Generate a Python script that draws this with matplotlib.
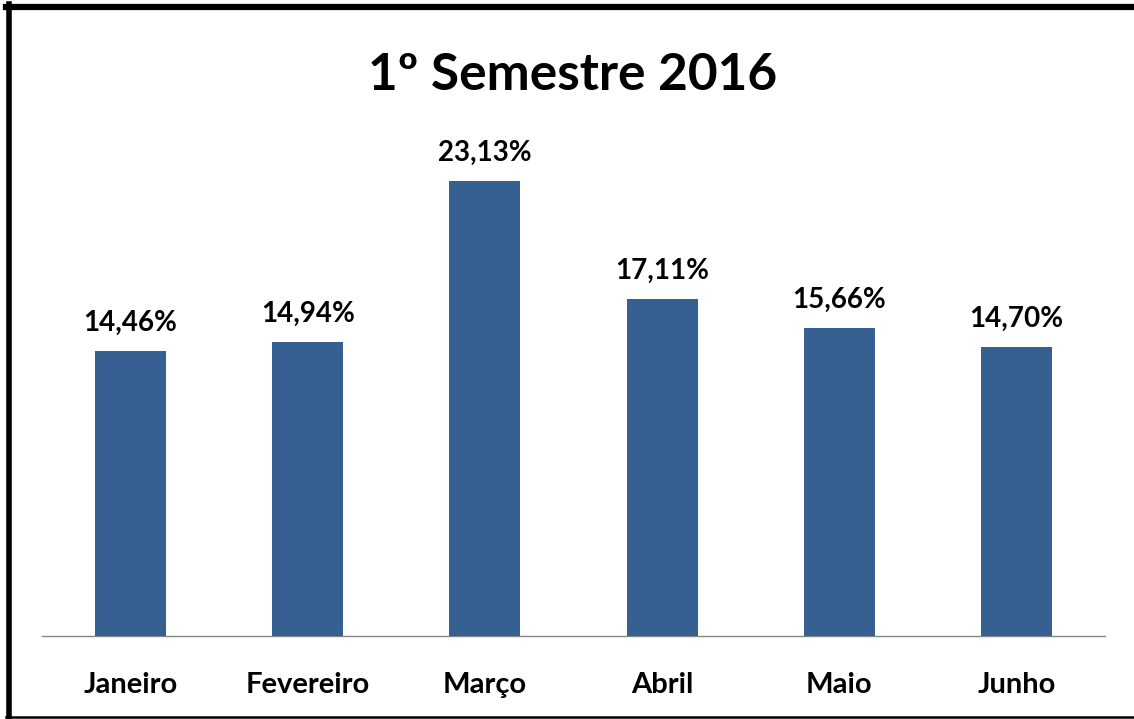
import matplotlib
matplotlib.use("Agg")
import matplotlib.pyplot as plt
from matplotlib.lines import Line2D

# --- DATA ---
meses = ["Janeiro", "Fevereiro", "Março", "Abril", "Maio", "Junho"]
valores = [14.46, 14.94, 23.13, 17.11, 15.66, 14.70]
rotulos = ["14,46%", "14,94%", "23,13%", "17,11%", "15,66%", "14,70%"]

BAR_COLOR = "#376092"
AXIS_COLOR = "#868686"
TEXT_COLOR = "#000000"
FONT = ["Lato", "DejaVu Sans"]

W, H = 1134, 719
fig = plt.figure(figsize=(W / 100, H / 100), dpi=100, facecolor="white")

# plot area: baseline at y=636px, x from 42 to 1105px
ax = fig.add_axes([42 / W, (H - 636) / H, 1063 / W, (636 - 144) / H])
x = list(range(len(meses)))
ax.bar(x, valores, width=0.40, color=BAR_COLOR, zorder=3)
ax.set_xlim(-0.5, len(meses) - 0.5)
ax.set_ylim(0, 25)

for xi, v, lab in zip(x, valores, rotulos):
    ax.annotate(lab, xy=(xi, v), xytext=(0, 11), textcoords="offset points",
                ha="center", va="bottom", fontsize=20, fontweight="bold",
                color=TEXT_COLOR, family=FONT)

for s in ["top", "right", "left"]:
    ax.spines[s].set_visible(False)
ax.spines["bottom"].set_color(AXIS_COLOR)
ax.spines["bottom"].set_linewidth(1.0)
ax.set_yticks([])
ax.set_xticks(x)
ax.set_xticklabels(meses, fontsize=21, fontweight="bold", family=FONT, color=TEXT_COLOR)
ax.tick_params(axis="x", length=0, pad=26)

# --- TITLE ---
fig.text(573 / W, 1 - 76 / H, "1º Semestre 2016", ha="center", va="center",
         fontsize=37, fontweight="bold", family=FONT, color=TEXT_COLOR)

# --- FRAME ---
def hline(y, x0, x1, lw):
    fig.add_artist(Line2D([x0 / W, x1 / W], [1 - y / H, 1 - y / H],
                          transform=fig.transFigure, color="black", linewidth=lw))

hline(7, 6, W, 4.5)
hline(716.5, 6, W, 1.8)
fig.add_artist(Line2D([8.5 / W, 8.5 / W], [1 - 4 / H, 1 - 718 / H],
                      transform=fig.transFigure, color="black", linewidth=4))

fig.savefig("out.png", dpi=100, facecolor="white")
